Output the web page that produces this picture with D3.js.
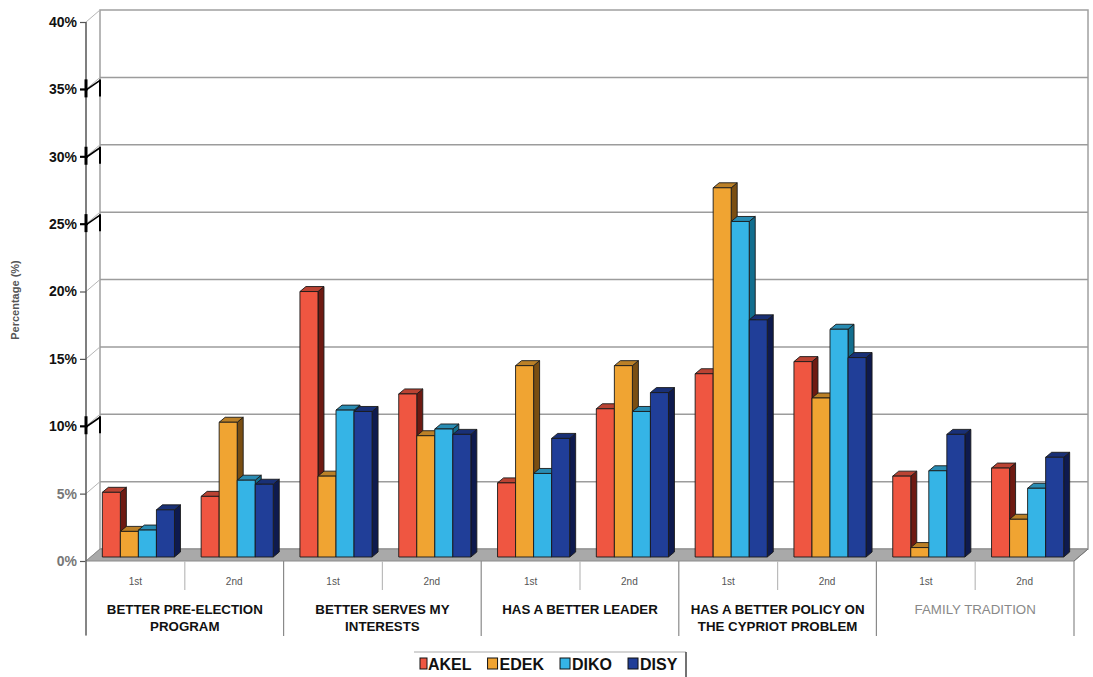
<!DOCTYPE html>
<html><head><meta charset="utf-8">
<script src="https://cdn.jsdelivr.net/npm/d3@7"></script>
<style>body{margin:0;background:#fff} svg{display:block;font-family:"Liberation Sans",Arial,sans-serif}</style>
</head><body><svg id="c" width="1093" height="677"></svg>
<script>
// ---- data ----
const groups = [["BETTER PRE-ELECTION","PROGRAM"],["BETTER SERVES MY","INTERESTS"],["HAS A BETTER LEADER"],["HAS A BETTER POLICY ON","THE CYPRIOT PROBLEM"],["FAMILY TRADITION"]];
const rounds = ["1st","2nd"];
const series = ["AKEL","EDEK","DIKO","DISY"];
const akel = [4.8, 4.5, 19.7, 12.1, 5.5, 11.0, 13.6, 14.5, 6.0, 6.6];
const edek = [1.9, 10.0, 6.0, 9.0, 14.2, 14.2, 27.4, 11.8, 0.7, 2.8];
const diko = [2.0, 5.7, 10.9, 9.5, 6.2, 10.8, 24.9, 16.9, 6.4, 5.1];
const disy = [3.5, 5.4, 10.8, 9.1, 8.8, 12.2, 17.6, 14.8, 9.1, 7.4];
const yTicks = [0,5,10,15,20,25,30,35,40];
const breakTicks = [10,25,30,35];
const colors = ["#EF5641","#F0A432","#35B4E6","#203E98"];
const sideColors = ["#6E1A12","#7A4E12","#126E8E","#0E1A4E"];

const values = [akel, edek, diko, disy];
const ids = groups.flatMap((g,i)=>rounds.map(r=>i+"|"+r));

const svg = d3.select("#c");
const x = d3.scaleBand().domain(ids).range([86,1074]);
const y = d3.scaleLinear().domain([0,40]).range([561,22]);
const DX=14, DY=-12;      // wall depth
const BX=3, BY=-4;        // bar plane offset
const bdx=6, bdy=-5;      // bar depth
const inner = d3.scaleBand().domain(series).range([0,x.bandwidth()]).paddingInner(0).paddingOuter(0.74);

// back wall
svg.append("rect").attr("x",86+DX).attr("y",y(40)+DY).attr("width",1074-86).attr("height",y(0)-y(40))
  .attr("fill","#fff").attr("stroke","#a0a0a0").attr("stroke-width",1.5);
// gridlines
svg.append("g").selectAll("line").data(yTicks.filter(d=>d>0&&d<40)).join("line")
  .attr("x1",86+DX).attr("x2",1074+DX).attr("y1",d=>y(d)+DY).attr("y2",d=>y(d)+DY)
  .attr("stroke","#9c9c9c").attr("stroke-width",1.5);
// left wall depth lines
svg.append("g").selectAll("line").data(yTicks).join("line")
  .attr("x1",86).attr("x2",86+DX).attr("y1",d=>y(d)).attr("y2",d=>y(d)+DY)
  .attr("stroke","#b5b5b5").attr("stroke-width",1);
// floor
svg.append("polygon").attr("points",[[86,y(0)],[1074,y(0)],[1074+DX,y(0)+DY],[86+DX,y(0)+DY]].map(p=>p.join(",")).join(" "))
  .attr("fill","#a9a9a9").attr("stroke","#8a8a8a").attr("stroke-width",1);

// bars
const bars = svg.append("g");
ids.forEach((id,j)=>{
  series.forEach((s,k)=>{
    const v = values[k][j];
    const x0 = x(id)+BX+inner(s), w = inner.bandwidth();
    const yt = y(v)+BY, yb = y(0)+BY;
    const g = bars.append("g").attr("stroke","#1a1a1a").attr("stroke-width",0.9).attr("stroke-linejoin","round");
    g.append("polygon").attr("points",[[x0+w,yt],[x0+w+bdx,yt+bdy],[x0+w+bdx,yb+bdy],[x0+w,yb]].map(p=>p.join(",")).join(" "))
      .attr("fill",sideColors[k]);
    g.append("polygon").attr("points",[[x0,yt],[x0+bdx,yt+bdy],[x0+w+bdx,yt+bdy],[x0+w,yt]].map(p=>p.join(",")).join(" "))
      .attr("fill",d3.color(colors[k]).darker(0.7));
    g.append("rect").attr("x",x0).attr("y",yt).attr("width",w).attr("height",yb-yt).attr("fill",colors[k]);
  });
});

// right floor edge line
svg.append("line").attr("x1",1074).attr("y1",y(0)).attr("x2",1074+DX).attr("y2",y(0)+DY).attr("stroke","#777");

// y axis
const ax = svg.append("g").attr("transform","translate(86,0)")
  .call(d3.axisLeft(y).tickValues(yTicks).tickFormat(d=>d+"%").tickSize(6).tickPadding(3));
ax.select(".domain").remove();
ax.selectAll(".tick line").attr("stroke","#555").attr("stroke-width",1.2);
ax.selectAll(".tick text").attr("font-size",14).attr("font-weight","bold")
  .attr("fill",d=>d<=5?"#777":"#111").attr("font-family","'Liberation Sans',Arial,sans-serif");
svg.append("line").attr("x1",86).attr("x2",86).attr("y1",y(40)).attr("y2",635).attr("stroke","#555").attr("stroke-width",1.5);
// axis breaks
const br = svg.append("g").attr("stroke","#000").attr("fill","none");
breakTicks.forEach(t=>{
  const yy=y(t);
  br.append("line").attr("x1",86).attr("x2",86).attr("y1",yy-10).attr("y2",yy+8).attr("stroke-width",3);
  br.append("line").attr("x1",80).attr("x2",88).attr("y1",yy).attr("y2",yy).attr("stroke-width",2);
  br.append("line").attr("x1",87).attr("x2",100).attr("y1",yy).attr("y2",yy-9).attr("stroke-width",1.6);
  br.append("line").attr("x1",100).attr("x2",100).attr("y1",yy-10).attr("y2",yy+7).attr("stroke-width",2);
});
// y title
svg.append("text").attr("transform","translate(19,300) rotate(-90)").attr("text-anchor","middle")
  .attr("font-size",11).attr("font-weight","bold").attr("fill","#555").text("Percentage (%)");

// category table
const tbl = svg.append("g");
tbl.selectAll("line.sub").data(ids.concat(["end"])).join("line")
  .attr("x1",(d,i)=>86+i*x.step()).attr("x2",(d,i)=>86+i*x.step())
  .attr("y1",y(0)).attr("y2",(d,i)=>i%2===0?636:590)
  .attr("stroke",(d,i)=>i%2===0?"#8a8a8a":"#bbb").attr("stroke-width",1.2);
const bx = svg.append("g").attr("transform",`translate(0,${y(0)})`)
  .call(d3.axisBottom(x).tickFormat(d=>d.split("|")[1]).tickSize(0).tickPadding(17));
bx.select(".domain").remove();
bx.selectAll("text").attr("font-size",10).attr("fill","#555").attr("font-family","'Liberation Sans',Arial,sans-serif");
groups.forEach((lines,i)=>{
  const cx = x(i+"|1st") + x.step();
  const t = tbl.append("text").attr("text-anchor","middle").attr("font-size",13.3)
    .attr("font-weight",i===4?"normal":"bold").attr("fill",i===4?"#888":"#111");
  lines.forEach((l,k)=>t.append("tspan").attr("x",cx).attr("y",614+k*17).text(l));
});

// legend
const lg = svg.append("g");
lg.append("line").attr("x1",414).attr("x2",686).attr("y1",652).attr("y2",652).attr("stroke","#aaa").attr("stroke-width",1.2);
lg.append("line").attr("x1",686).attr("x2",686).attr("y1",652).attr("y2",677).attr("stroke","#444").attr("stroke-width",1.5);
let lx = 420;
series.forEach((s,k)=>{
  lg.append("rect").attr("x",lx).attr("y",658).attr("width",k===0?7:10).attr("height",11).attr("fill",colors[k]).attr("stroke","#111").attr("stroke-width",1);
  const t = lg.append("text").attr("x",lx+(k===0?8:12)).attr("y",669.5).attr("font-size",16).attr("font-weight","bold").attr("fill","#111").text(s);
  lx += (k===0?8:12) + t.node().getComputedTextLength() + 16;
});
</script></body></html>
